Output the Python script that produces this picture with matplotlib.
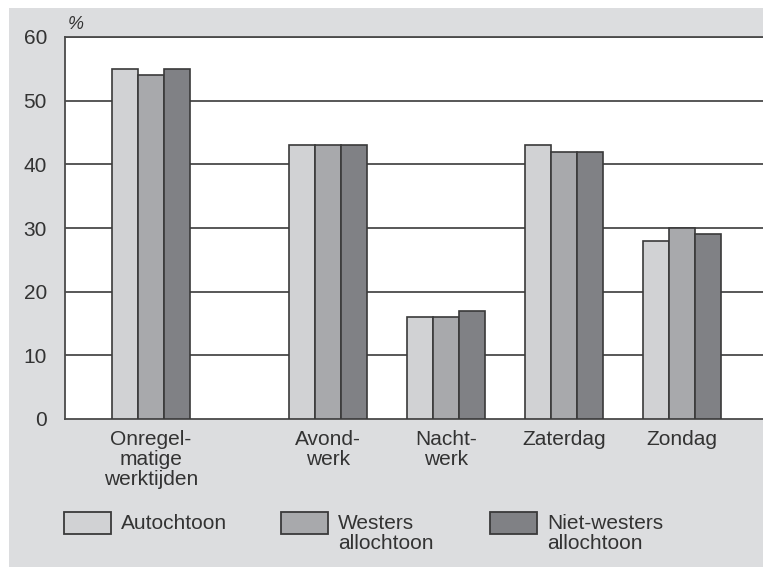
import matplotlib
matplotlib.use("Agg")
import matplotlib.pyplot as plt
from matplotlib.patches import Rectangle

plt.rcParams['font.family'] = ['Liberation Sans', 'DejaVu Sans']

# Data
categories = ["Onregel-\nmatige\nwerktijden", "Avond-\nwerk", "Nacht-\nwerk", "Zaterdag", "Zondag"]
positions = [0, 1.5, 2.5, 3.5, 4.5]
series_names = ["Autochtoon", "Westers\nallochtoon", "Niet-westers\nallochtoon"]
autochtoon = [55, 43, 16, 43, 28]
westers = [54, 43, 16, 42, 30]
niet_westers = [55, 43, 17, 42, 29]
yticks = [0, 10, 20, 30, 40, 50, 60]

colors = ["#d1d2d4", "#a8a9ac", "#808185"]
edge = "#3a3a3a"
text_col = "#333333"
bg = "#dcdddf"

fig = plt.figure(figsize=(7.63, 5.67), dpi=100)
fig.patch.set_facecolor("white")
# grey panel behind everything
fig.add_artist(Rectangle((9 / 763, 0), 1 - 9 / 763, 1 - 8 / 567,
                         transform=fig.transFigure, facecolor=bg,
                         edgecolor="none", zorder=-10))

ax = fig.add_axes([65 / 763, 1 - 419 / 567, 1 - 65 / 763, (419 - 37) / 567])
ax.set_facecolor("white")

width = 0.22
all_series = [autochtoon, westers, niet_westers]
for i, vals in enumerate(all_series):
    xs = [p + (i - 1) * width for p in positions]
    ax.bar(xs, vals, width=width, color=colors[i], edgecolor=edge,
           linewidth=1.2, zorder=3)

ax.set_ylim(0, 60)
ax.set_xlim(-0.73, 5.19)
ax.set_yticks(yticks)
ax.set_yticklabels([str(t) for t in yticks], fontsize=15, color=text_col)
ax.set_xticks(positions)
ax.set_xticklabels(categories, fontsize=15, color=text_col, linespacing=1.05,
                   va="top")
ax.tick_params(axis="both", length=0)
ax.tick_params(axis="y", pad=13)
ax.tick_params(axis="x", pad=8)

for y in yticks[1:]:
    ax.axhline(y, color="#4a4a4a", linewidth=1.3, zorder=1)

ax.spines["right"].set_visible(False)
for s in ["left", "bottom", "top"]:
    ax.spines[s].set_color("#4a4a4a")
    ax.spines[s].set_linewidth(1.3)

ax.text(0.004, 1.01, "%", transform=ax.transAxes, fontsize=13,
        style="italic", color=text_col, ha="left", va="bottom")

# legend drawn by hand to match the layout
leg_x = [64, 281, 490]
for i, name in enumerate(series_names):
    x0 = leg_x[i] / 763
    fig.add_artist(Rectangle((x0, 1 - 534 / 567), 47 / 763, 22 / 567,
                             transform=fig.transFigure, facecolor=colors[i],
                             edgecolor=edge, linewidth=1.3))
    fig.text(x0 + 57 / 763, 1 - 514 / 567, name, fontsize=15, color=text_col,
             ha="left", va="top", linespacing=1.05)

fig.savefig("out.png", dpi=100)
